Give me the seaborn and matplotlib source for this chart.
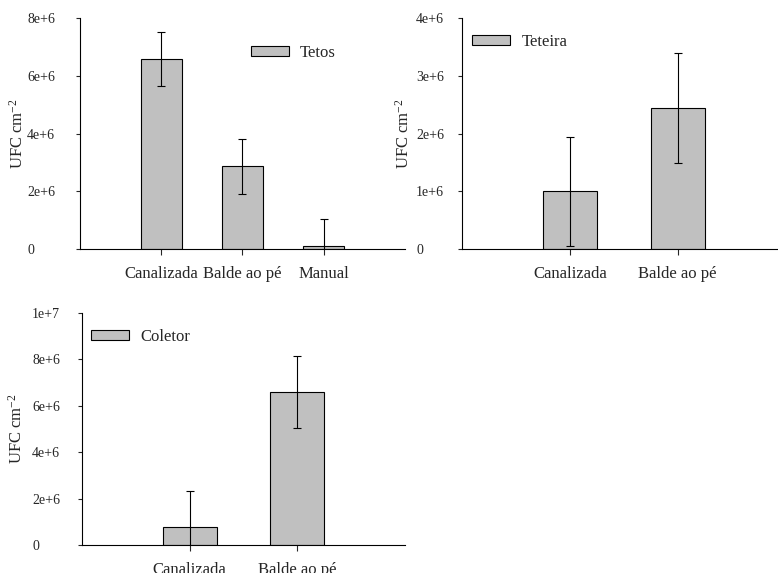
#!usr/bin/env python3

"""
UFC cm-2 bar charts for Tetos, Teteira and Coletor
"""

import pandas as pd
import seaborn as sns
import matplotlib.pyplot as plt
from matplotlib.patches import Patch
from matplotlib.ticker import FuncFormatter, MultipleLocator

# Data
tetos_cats = ["Canalizada", "Balde ao pé", "Manual"]
tetos_vals = [6.58e6, 2.87e6, 0.1e6]
tetos_err = [0.95e6, 0.95e6, 0.95e6]

teteira_cats = ["Canalizada", "Balde ao pé"]
teteira_vals = [1.0e6, 2.44e6]
teteira_err = [0.94e6, 0.95e6]

coletor_cats = ["Canalizada", "Balde ao pé"]
coletor_vals = [0.78e6, 6.59e6]
coletor_err = [1.55e6, 1.55e6]

sns.set_style("ticks")
plt.rcParams["font.family"] = ["Liberation Serif", "DejaVu Serif"]
plt.rcParams["mathtext.default"] = "regular"


def sci(v, pos):
    # labels like 8e+6, 0 stays 0
    if v == 0:
        return "0"
    exp = len(str(int(abs(v)))) - 1
    return "{:d}e+{:d}".format(int(round(v / 10 ** exp)), exp)


def draw_panel(ax, cats, vals, errs, label, ymax, step, xmax, leg_xy, ypad, ylab_x):
    df = pd.DataFrame({"cat": cats, "val": vals})
    sns.barplot(data=df, x="cat", y="val", ax=ax, color="#c0c0c0",
                saturation=1, edgecolor="black", linewidth=0.8, width=0.5,
                errorbar=None)
    ax.errorbar(range(len(cats)), vals, yerr=errs, fmt="none",
                ecolor="black", elinewidth=0.8, capsize=3, capthick=0.8)

    ax.set_xlim(-1, xmax)
    ax.set_ylim(0, ymax)
    ax.yaxis.set_major_locator(MultipleLocator(step))
    ax.yaxis.set_major_formatter(FuncFormatter(sci))

    ax.set_xlabel("")
    ax.set_ylabel("UFC cm$^{-2}$", fontsize=12)
    ax.yaxis.set_label_coords(ylab_x, 0.5)
    ax.tick_params(axis="y", labelsize=10, direction="out", length=3, width=0.8, pad=ypad)
    ax.tick_params(axis="x", labelsize=12, direction="out", length=4, width=0.8, pad=8)
    # tick labels on the y axis line up on their left side
    for t in ax.get_yticklabels():
        t.set_horizontalalignment("left")

    sns.despine(ax=ax)
    for s in ["left", "bottom"]:
        ax.spines[s].set_linewidth(0.8)
        ax.spines[s].set_color("black")

    handle = Patch(facecolor="#c0c0c0", edgecolor="black", linewidth=0.8)
    ax.legend([handle], [label], loc="center left", bbox_to_anchor=leg_xy,
              frameon=False, fontsize=12, borderaxespad=0, borderpad=0,
              handlelength=2.3, handleheight=0.5, handletextpad=0.65)


fig = plt.figure(figsize=(7.78, 5.73), dpi=100)

ax1 = fig.add_axes([0.1028, 0.5654, 0.4177, 0.4031])
ax2 = fig.add_axes([0.5938, 0.5654, 0.4062, 0.4031])
ax3 = fig.add_axes([0.1054, 0.0489, 0.4151, 0.4049])

draw_panel(ax1, tetos_cats, tetos_vals, tetos_err, "Tetos", 8e6, 2e6, 3,
           (0.526, 0.848), 35, -0.163)
draw_panel(ax2, teteira_cats, teteira_vals, teteira_err, "Teteira", 4e6, 1e6, 1.93,
           (0.032, 0.896), 30, -0.155)
draw_panel(ax3, coletor_cats, coletor_vals, coletor_err, "Coletor", 1e7, 2e6, 2,
           (0.028, 0.897), 33, -0.174)

plt.savefig("out.png", dpi=100)
